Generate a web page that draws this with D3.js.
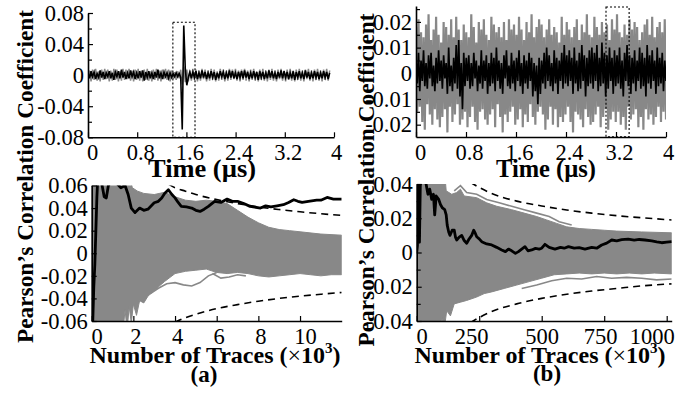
<!DOCTYPE html>
<html><head><meta charset="utf-8">
<script src="https://cdn.jsdelivr.net/npm/d3@7"></script>
<style>body{margin:0;background:#fff}svg{display:block}</style>
</head><body>
<svg id="c" width="700" height="393"></svg>
<script>
// ---------------- DATA ----------------
const timeTicks = [0, 0.8, 1.6, 2.4, 3.2, 4];
const yTicksTopA = [0.08, 0.04, 0, -0.04, -0.08];
const yTicksTopB = [0.02, 0.01, 0, -0.01, -0.02];
const yTicksBotA = [0.06, 0.04, 0.02, 0, -0.02, -0.04, -0.06];
const yTicksBotB = [0.04, 0.02, 0, -0.02, -0.04];
const nTicksBotA = [0, 2, 4, 6, 8, 10];
const nTicksBotB = [0, 250, 500, 750, 1000];

// (a) top: correlation vs time, values in units of 1e-3, evenly sampled over 0..durationA µs
const durationA = 3.93;
const topA_black = [3,-4,5,-2,4,-5,2,-3,6,-3,4,-5,3,-2,5,-4,3,-6,4,-2,5,-4,7,-3,4,-5,3,-4,6,-2,4,-5,3,
 -4,5,-3,6,-7,4,-3,5,-4,3,-5,4,-3,7,-4,3,-5,4,-2,3,-4,3,-3,
 2,-2,3,-2,2,-3,
 -70,64,8,-13,-3,4,
 -4,4,-3,5,-5,3,-4,6,-3,4, -5,3,-4,5,-3,4,-6,3,-4,5, -2,4,-5,3,-4,6,-3,5,-4,3, -5,4,-3,5,-4,6,-3,4,-5,3,
 -4,5,-3,4,-6,5,-3,4,-5,3, -4,6,-3,5,-4,3,-5,4,-3,6, -4,5,-3,4,-5,3,-4,5,-6,4, -3,5,-4,3,-5,6,-3,4,-5,3,
 -4,5,-3,4,-5,3,-4,5,-3,4, -5,3];
const topA_gray = [-7,6,-8,7,-6,8,-7,5,-8,7,-6,8,-5,7,-8,6,-7,8,-6,7,-8,5,-7,8,-6,7,-5,8,-7,6,-8,7,-6,
 8,-7,6,-8,7,-6,8,-7,5,-8,7,-6,8,-7,6,-8,7,-5,8,-6,7,-8,6,
 -5,4,-6,5,-4,7,
 -12,11,-9,7,-8,6,
 -7,8,-6,7,-8,6,-7,8,-5,7, -8,6,-7,8,-6,7,-8,5,-7,8, -6,7,-8,6,-7,8,-6,7,-5,8, -7,6,-8,7,-6,8,-7,6,-8,7,
 -6,8,-7,5,-8,7,-6,8,-7,6, -8,7,-6,8,-7,6,-8,7,-5,8, -7,6,-8,7,-6,8,-7,6,-8,7, -6,8,-7,6,-8,7,-5,8,-7,6,
 -8,7,-6,8,-7,6,-8,7,-6,8, -7,6];
const boxA = {t0: 1.38, t1: 1.74, v0: -0.08, v1: 0.068};

// (b) top: values in units of 1e-3, evenly sampled over 0..durationB µs
const durationB = 4.0;
const topB_gray = [18,-15,21,-13,16,-19,14,-22,19,-12,23,-16,13,-20,17,-14,22,-18,15,-21,
 12,-17,20,-14,18,-23,15,-13,21,-19,14,-16,22,-12,17,-20,13,-18,19,-15,
 16,-21,14,-17,23,-13,18,-19,12,-22,20,-15,17,-14,21,-18,15,-20,13,-16,
 22,-14,19,-21,16,-12,18,-17,14,-23,20,-16,13,-19,21,-15,17,-13,19,-20,
 15,-18,22,-14,17,-21,13,-16,20,-19,16,-12,23,-17,14,-20,18,-15,21,-13,
 19,-16,14,-22,17,-18,21,-13,15,-20,18,-14,16,-21,12,-17,22,-19,15,-16,
 20,-13,17,-19,14,-23,18,-15,21,-16,13,-18,19,-21,16,-14,23,-17,15,-20,
 14,-19,22,-16,18,-13,15,-21,20,-17,16,-14,19,-22,13,-18,21,-15,17,-19,
 23,-15,16,-20,14,-17,19,-22,15,-13,21,-18,17,-16,20,-14,18,-21,13,-17,
 16,-22,19,-14,21,-18,15,-16,22,-20,14,-17,18,-13,20,-19,16,-15,21,-18];
const topB_black = [6,-4,8,-7,5,-3,9,-5,4,-6,7,-2,8,-5,3,-7,6,-4,9,-3,
 5,-6,7,-2,4,-8,10,-5,3,-7,6,-4,11,-6,13,-9,4,-14,8,-5,
 6,-3,7,-6,4,-5,8,-2,5,-7,3,-4,9,-6,5,-3,7,-8,4,-5,
 8,-4,6,-7,10,-3,5,-6,4,-8,7,-2,9,-5,3,-6,8,-4,5,-7,
 6,-3,9,-5,4,-8,7,-4,5,-6,8,-3,6,-9,4,-7,3,-12,6,-8,
 5,-4,8,-6,10,-3,7,-5,4,-7,9,-4,6,-8,5,-3,8,-6,11,-4,
 7,-5,9,-3,6,-8,10,-4,5,-7,8,-6,11,-3,7,-9,6,-5,9,-4,
 10,-6,8,-3,11,-7,6,-5,12,-4,8,-9,7,-6,10,-3,6,-8,9,-5,
 7,-4,10,-6,5,-9,8,-3,11,-5,7,-8,6,-4,9,-7,5,-3,10,-6,
 8,-5,6,-9,11,-4,7,-6,9,-3,5,-8,10,-5,6,-4,8,-7,5,-3];
const boxB = {t0: 3.04, t1: 3.41, v0: -0.0247, v1: 0.0258};

// (a) bottom: [traces ×10^3, correlation]
const botA_black = [[0.02,-0.08],[0.1,-0.03],[0.15,-0.01],[0.2,0.02],[0.25,0.05],[0.3,0.07],[0.45,0.065],[0.6,0.05],[0.7,0.049],[0.8,0.06],[1.0,0.065],[1.2,0.062],[1.4,0.058],[1.6,0.06],[1.75,0.052],[1.9,0.04],[2.08,0.036],[2.3,0.04],[2.5,0.038],[2.7,0.039],[3.0,0.0447],[3.2,0.046],[3.36,0.049],[3.5,0.053],[3.68,0.0562],[3.85,0.052],[4.0,0.049],[4.15,0.045],[4.3,0.0415],[4.55,0.041],[4.8,0.040],[5.0,0.038],[5.2,0.037],[5.4,0.039],[5.6,0.0415],[5.9,0.046],[6.2,0.045],[6.5,0.048],[6.75,0.046],[7.0,0.046],[7.3,0.044],[7.6,0.0415],[8.1,0.040],[8.35,0.042],[8.6,0.041],[8.9,0.042],[9.2,0.043],[9.45,0.045],[9.7,0.0474],[9.9,0.046],[10.1,0.045],[10.4,0.046],[10.8,0.047],[11.0,0.047],[11.3,0.0494],[11.6,0.048],[12.0,0.048]];
const botA_grayUpper = [[0,0.07],[1.8,0.07],[1.95,0.058],[2.2,0.055],[2.5,0.053],[3.0,0.052],[3.5,0.054],[4.0,0.05],[4.5,0.047],[5.0,0.046],[5.5,0.047],[6.0,0.046],[6.5,0.044],[7.0,0.038],[7.5,0.032],[8.0,0.027],[8.5,0.023],[9.0,0.021],[9.5,0.020],[10.0,0.019],[11.0,0.017],[12.0,0.016]];
const botA_grayLower = [[0,-0.07],[1.5,-0.07],[1.6,-0.05],[1.7,-0.068],[1.8,-0.047],[1.9,-0.062],[2.0,-0.045],[2.15,-0.055],[2.3,-0.042],[2.5,-0.044],[2.7,-0.038],[3.0,-0.033],[3.5,-0.025],[4.0,-0.018],[4.5,-0.016],[5.0,-0.015],[5.5,-0.014],[6.0,-0.017],[6.5,-0.018],[7.0,-0.017],[7.5,-0.018],[8.0,-0.02],[8.5,-0.021],[9.0,-0.02],[9.5,-0.019],[10.0,-0.018],[10.5,-0.019],[11.0,-0.02],[11.5,-0.019],[12.0,-0.019]];
const botA_grayOutliers = [
  [[2.8,-0.036],[3.2,-0.031],[3.6,-0.027],[4.0,-0.026],[4.4,-0.028],[4.8,-0.029],[5.2,-0.026],[5.6,-0.02],[6.0,-0.017]],
  [[5.8,-0.018],[6.2,-0.022],[6.6,-0.021],[7.0,-0.019],[7.4,-0.02]]
];
const botA_threshUpper = [[3.7,0.061],[4.0,0.058],[4.5,0.055],[5.0,0.052],[6.0,0.0475],[7.0,0.044],[8.0,0.041],[9.0,0.0387],[10.0,0.0367],[11.0,0.035],[12.0,0.0335]];
const botA_threshLower = [[4.0,-0.061],[4.5,-0.057],[5.0,-0.054],[6.0,-0.049],[7.0,-0.0455],[8.0,-0.0425],[9.0,-0.040],[10.0,-0.038],[11.0,-0.0363],[12.0,-0.0347]];

// (b) bottom: [traces ×10^3, correlation]
const botB_black = [[0,0.0],[3,0.004],[5,0.045],[8,0.045],[11,0.006],[15,0.045],[25,0.045],[35,0.042],[45,0.034],[52,0.037],[60,0.031],[67,0.034],[72,0.022],[78,0.033],[88,0.031],[95,0.028],[103,0.026],[112,0.025],[118,0.022],[122,0.016],[128,0.012],[133,0.010],[142,0.013],[150,0.0131],[155,0.009],[160,0.0073],[170,0.009],[180,0.010],[190,0.007],[200,0.0054],[210,0.008],[220,0.010],[228,0.013],[235,0.011],[240,0.0092],[250,0.008],[260,0.0063],[280,0.005],[300,0.0044],[320,0.003],[340,0.0015],[355,0.0005],[367,0.002],[380,0.001],[395,-0.0005],[407,0.0005],[420,0.002],[433,0.0034],[445,0.001],[460,0.0015],[475,0.0024],[490,0.002],[500,0.0025],[513,0.0048],[530,0.003],[553,0.002],[575,0.003],[590,0.0025],[607,0.0034],[630,0.0025],[650,0.0028],[673,0.002],[700,0.003],[720,0.0025],[740,0.0044],[760,0.0055],[780,0.0073],[800,0.0068],[820,0.0075],[846,0.0078],[870,0.0072],[890,0.0076],[913,0.0073],[940,0.0068],[960,0.0062],[980,0.0057],[1000,0.006],[1020,0.0063]];
const botB_grayUpper = [[0,0.05],[110,0.05],[118,0.036],[140,0.034],[160,0.035],[175,0.037],[190,0.033],[240,0.032],[280,0.029],[320,0.027],[380,0.025],[430,0.023],[480,0.021],[520,0.019],[560,0.017],[600,0.015],[650,0.014],[700,0.0135],[750,0.013],[800,0.0125],[900,0.012],[1020,0.0115]];
const botB_grayLower = [[0,-0.05],[90,-0.05],[100,-0.038],[110,-0.045],[120,-0.034],[135,-0.037],[150,-0.03],[175,-0.029],[200,-0.028],[240,-0.026],[270,-0.024],[300,-0.023],[350,-0.021],[400,-0.019],[450,-0.017],[500,-0.015],[550,-0.013],[600,-0.0125],[650,-0.012],[700,-0.0125],[750,-0.012],[800,-0.0125],[850,-0.012],[900,-0.0125],[950,-0.012],[1020,-0.0125]];
const botB_grayOutliers = [
  [[150,0.036],[175,0.039],[200,0.035],[240,0.034],[280,0.031],[330,0.029],[380,0.027],[430,0.025],[480,0.023],[530,0.021],[570,0.018],[620,0.016]],
  [[420,-0.021],[480,-0.019],[540,-0.0165],[600,-0.015],[660,-0.0155],[720,-0.014],[780,-0.015],[840,-0.0145],[900,-0.015],[960,-0.016],[1020,-0.0155]]
];
const botB_threshUpper = [[215,0.041],[226,0.040],[300,0.0345],[400,0.030],[500,0.0272],[600,0.0248],[700,0.023],[800,0.0215],[900,0.0203],[1020,0.019]];
const botB_threshLower = [[215,-0.041],[226,-0.040],[300,-0.0345],[400,-0.030],[500,-0.0268],[600,-0.0244],[700,-0.0225],[800,-0.021],[900,-0.0195],[1020,-0.0183]];

// ---------------- DRAW ----------------
const svg = d3.select("#c");
const FONT = "'Liberation Serif','Times New Roman',Times,serif";
const GRAY = "#888888";
const fmt = v => String(v);

function panel(id, xs, ys, xTicks, xDx, yTicks, yMinor) {
  const g = svg.append("g");
  const [x0, x1] = xs.range(), [yb, yt] = ys.range();
  svg.append("clipPath").attr("id", id).append("rect")
    .attr("x", x0).attr("y", yt).attr("width", x1 - x0).attr("height", yb - yt);
  const plot = g.append("g").attr("clip-path", `url(#${id})`);
  const ya = g.append("g").attr("transform", `translate(${x0},0)`)
    .call(d3.axisLeft(ys).tickValues(yTicks).tickFormat(fmt).tickSize(-5).tickSizeOuter(0).tickPadding(4));
  const ym = g.append("g").attr("transform", `translate(${x0},0)`)
    .call(d3.axisLeft(ys).tickValues(yMinor).tickFormat("").tickSize(-4).tickSizeOuter(0));
  ym.select(".domain").remove();
  const xa = g.append("g").attr("transform", `translate(0,${yb})`)
    .call(d3.axisBottom(xs).tickValues(xTicks).tickFormat(fmt).tickSize(-5).tickSizeOuter(0).tickPadding(4));
  [ya, xa].forEach(a => {
    a.select(".domain").attr("stroke", "#000").attr("stroke-width", 1.6);
    a.selectAll("text").attr("font-family", FONT).attr("font-size", 22.5).attr("fill", "#000");
  });
  g.selectAll(".tick line").attr("stroke", "#000").attr("stroke-width", 1.2);
  xa.selectAll("text").attr("dy", "0.85em").attr("dx", (d, i) => xDx[i] || 0);
  return plot;
}

// ---- (a) top
const xTA = d3.scaleLinear().domain([0, 4]).range([88, 334]);
const yTA = d3.scaleLinear().domain([-0.08, 0.08]).range([137.3, 13]);
const pTA = panel("clipTA", xTA, yTA, timeTicks, [4,3,3,3,3,2], yTicksTopA, [0.06,0.02,-0.02,-0.06]);
const lineTA = d3.line().x((d, i, a) => xTA(i * durationA / (a.length - 1))).y(d => yTA(d / 1000));
pTA.append("path").attr("d", lineTA(topA_gray)).attr("fill", "none").attr("stroke", GRAY).attr("stroke-width", 1.5);
pTA.append("path").attr("d", lineTA(topA_black)).attr("fill", "none").attr("stroke", "#000").attr("stroke-width", 1.6);
svg.append("rect").attr("x", xTA(boxA.t0)).attr("y", yTA(boxA.v1))
  .attr("width", xTA(boxA.t1) - xTA(boxA.t0)).attr("height", yTA(boxA.v0) - yTA(boxA.v1))
  .attr("fill", "none").attr("stroke", "#000").attr("stroke-width", 1.1).attr("stroke-dasharray", "2,2");

// ---- (b) top
const xTB = d3.scaleLinear().domain([0, 4]).range([416, 666]);
const yTB = d3.scaleLinear().domain([-0.0248, 0.0262]).range([137, 6]);
const pTB = panel("clipTB", xTB, yTB, timeTicks, [4,3,3,3,3,2], yTicksTopB, [0.025,0.015,0.005,-0.005,-0.015]);
const lineTB = d3.line().x((d, i, a) => xTB(i * durationB / (a.length - 1))).y(d => yTB(d / 1000));
pTB.append("path").attr("d", lineTB(topB_gray)).attr("fill", "none").attr("stroke", GRAY).attr("stroke-width", 2.2);
pTB.append("path").attr("d", lineTB(topB_black)).attr("fill", "none").attr("stroke", "#000").attr("stroke-width", 1.7);
svg.append("rect").attr("x", xTB(boxB.t0)).attr("y", yTB(boxB.v1))
  .attr("width", xTB(boxB.t1) - xTB(boxB.t0)).attr("height", yTB(boxB.v0) - yTB(boxB.v1))
  .attr("fill", "none").attr("stroke", "#000").attr("stroke-width", 1.1).attr("stroke-dasharray", "2,2");

// ---- bottom helper
function drawBottom(plot, xs, ys, upper, lower, outliers, black, tUp, tLo) {
  const ln = d3.line().x(d => xs(d[0])).y(d => ys(d[1]));
  plot.append("path").attr("d", ln(upper.concat(lower.slice().reverse())) + "Z")
    .attr("fill", GRAY).attr("stroke", GRAY).attr("stroke-width", 1);
  outliers.forEach(o => plot.append("path").attr("d", ln(o)).attr("fill", "none").attr("stroke", GRAY).attr("stroke-width", 1.6));
  const curve = d3.line().curve(d3.curveMonotoneX).x(d => xs(d[0])).y(d => ys(d[1]));
  [tUp, tLo].forEach(t => plot.append("path").attr("d", curve(t))
    .attr("fill", "none").attr("stroke", "#000").attr("stroke-width", 1.6).attr("stroke-dasharray", "7,5"));
  plot.append("path").attr("d", ln(black)).attr("fill", "none").attr("stroke", "#000").attr("stroke-width", 2.8).attr("stroke-linejoin", "round");
}

// ---- (a) bottom
const xBA = d3.scaleLinear().domain([0, 12]).range([91.7, 341.7]);
const yBA = d3.scaleLinear().domain([-0.06, 0.06]).range([321, 185.5]);
const pBA = panel("clipBA", xBA, yBA, nTicksBotA, [5,2,2,2,2,5], yTicksBotA, []);
drawBottom(pBA, xBA, yBA, botA_grayUpper, botA_grayLower, botA_grayOutliers, botA_black, botA_threshUpper, botA_threshLower);

// ---- (b) bottom
const xBB = d3.scaleLinear().domain([0, 1020]).range([416.7, 671.7]);
const yBB = d3.scaleLinear().domain([-0.04, 0.04]).range([321, 184]);
const pBB = panel("clipBB", xBB, yBB, nTicksBotB, [5,-8,0,-4,-15], yTicksBotB, [0.03,0.01,-0.01,-0.03]);
drawBottom(pBB, xBB, yBB, botB_grayUpper, botB_grayLower, botB_grayOutliers, botB_black, botB_threshUpper, botB_threshLower);

// ---- titles
function txt(x, y, size, rot, len) {
  const t = svg.append("text").attr("font-family", FONT).attr("font-weight", "bold")
    .attr("font-size", size).attr("text-anchor", "middle")
    .attr("transform", `translate(${x},${y})` + (rot ? " rotate(-90)" : ""));
  if (len) t.attr("textLength", len).attr("lengthAdjust", "spacingAndGlyphs");
  return t;
}
txt(33, 176.5, 23.5, true, 333).text("Pearson\u2019s Correlation Coefficient");
txt(374, 180, 23.5, true, 333).text("Pearson\u2019s Correlation Coefficient");
txt(202, 177, 26, false, 108).text("Time (\u00b5s)");
txt(546, 177, 26, false, 100).text("Time (\u00b5s)");
function traces(x) {
  const t = txt(x, 363, 24, false);
  t.append("tspan").text("Number of Traces (");
  t.append("tspan").attr("font-weight", "normal").text("\u00d7");
  t.append("tspan").text("10");
  t.append("tspan").attr("font-size", 15).attr("dy", -10).text("3");
  t.append("tspan").attr("dy", 10).text(")");
}
traces(215);
traces(540);
txt(204, 382, 23).text("(a)");
txt(547, 381, 23).text("(b)");
</script>
</body></html>
